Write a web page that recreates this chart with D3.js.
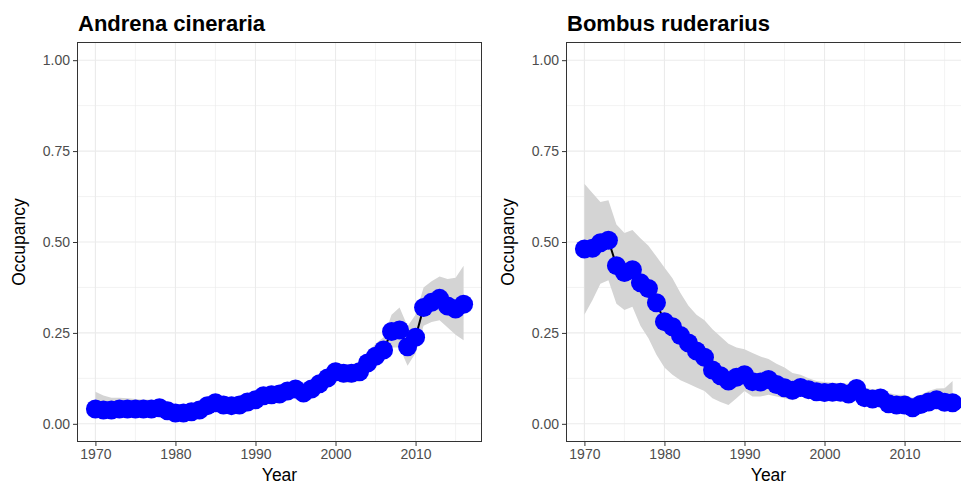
<!DOCTYPE html>
<html><head><meta charset="utf-8">
<script src="https://cdn.jsdelivr.net/npm/d3@7"></script>
<style>body{margin:0;background:#fff}svg{display:block}</style>
</head><body>
<svg id="chart" width="961" height="485"></svg>
<script>
const years = [1970,1971,1972,1973,1974,1975,1976,1977,1978,1979,1980,1981,1982,1983,1984,1985,1986,1987,1988,1989,1990,1991,1992,1993,1994,1995,1996,1997,1998,1999,2000,2001,2002,2003,2004,2005,2006,2007,2008,2009,2010,2011,2012,2013,2014,2015,2016];

const andrenaMean = [0.041,0.038,0.038,0.041,0.041,0.041,0.041,0.041,0.044,0.036,0.030,0.030,0.033,0.038,0.050,0.058,0.052,0.050,0.052,0.060,0.066,0.077,0.080,0.082,0.090,0.096,0.085,0.096,0.110,0.126,0.143,0.139,0.139,0.143,0.167,0.186,0.203,0.254,0.258,0.212,0.238,0.320,0.334,0.345,0.324,0.316,0.329];
const andrenaLower = [0.020,0.022,0.022,0.025,0.025,0.025,0.025,0.025,0.025,0.020,0.018,0.018,0.020,0.022,0.033,0.040,0.035,0.035,0.036,0.043,0.048,0.058,0.060,0.063,0.070,0.075,0.065,0.075,0.088,0.103,0.120,0.113,0.113,0.118,0.138,0.158,0.172,0.210,0.210,0.160,0.195,0.270,0.280,0.285,0.265,0.245,0.230];
const andrenaUpper = [0.088,0.078,0.072,0.072,0.070,0.068,0.067,0.066,0.066,0.057,0.052,0.052,0.054,0.060,0.072,0.078,0.072,0.070,0.072,0.079,0.087,0.098,0.102,0.104,0.112,0.120,0.109,0.120,0.135,0.152,0.170,0.164,0.164,0.170,0.195,0.220,0.238,0.300,0.320,0.268,0.300,0.375,0.392,0.405,0.398,0.402,0.435];

const bombusMean = [0.481,0.483,0.498,0.505,0.435,0.416,0.424,0.388,0.372,0.333,0.281,0.267,0.243,0.222,0.200,0.183,0.148,0.132,0.118,0.128,0.135,0.116,0.115,0.122,0.108,0.099,0.092,0.100,0.094,0.088,0.086,0.087,0.087,0.082,0.097,0.072,0.068,0.071,0.055,0.052,0.052,0.044,0.053,0.060,0.066,0.059,0.058];
const bombusLower = [0.300,0.340,0.385,0.395,0.330,0.313,0.322,0.270,0.235,0.190,0.155,0.135,0.120,0.110,0.100,0.090,0.070,0.060,0.052,0.070,0.090,0.075,0.075,0.080,0.075,0.070,0.065,0.075,0.070,0.065,0.065,0.065,0.065,0.063,0.075,0.055,0.050,0.050,0.040,0.035,0.035,0.028,0.035,0.040,0.045,0.040,0.035];
const bombusUpper = [0.660,0.635,0.610,0.615,0.548,0.525,0.533,0.510,0.490,0.460,0.430,0.400,0.360,0.325,0.300,0.285,0.260,0.240,0.220,0.210,0.205,0.195,0.185,0.178,0.165,0.155,0.140,0.135,0.125,0.118,0.115,0.113,0.112,0.110,0.122,0.100,0.095,0.097,0.085,0.080,0.080,0.072,0.080,0.090,0.097,0.098,0.118];

const xTicks = [1970,1980,1990,2000,2010];
const xMinor = [1975,1985,1995,2005,2015];
const yTicks = [0,0.25,0.5,0.75,1];
const yMinor = [0.125,0.375,0.625,0.875];

const panels = [
  {title:"Andrena cineraria", mean:andrenaMean, lower:andrenaLower, upper:andrenaUpper, left:77},
  {title:"Bombus ruderarius", mean:bombusMean, lower:bombusLower, upper:bombusUpper, left:566}
];

const svg = d3.select("#chart");
const pTop = 42, pBottom = 442, pw = 405;
const font = "Liberation Sans, Arial, Helvetica, sans-serif";

panels.forEach((p,i) => {
  const x = d3.scaleLinear().domain([1967.7, 2018.3]).range([p.left, p.left+pw]);
  const y = d3.scaleLinear().domain([-0.05, 1.05]).range([pBottom, pTop]);
  const g = svg.append("g");
  const cid = "clip"+i;
  svg.append("defs").append("clipPath").attr("id",cid).append("rect")
    .attr("x",p.left).attr("y",pTop).attr("width",pw).attr("height",pBottom-pTop);

  const grid = g.append("g");
  grid.selectAll(".vmin").data(xMinor).join("line")
    .attr("x1",d=>x(d)).attr("x2",d=>x(d)).attr("y1",pTop).attr("y2",pBottom)
    .attr("stroke","#ebebeb").attr("stroke-width",0.6);
  grid.selectAll(".hmin").data(yMinor).join("line")
    .attr("y1",d=>y(d)).attr("y2",d=>y(d)).attr("x1",p.left).attr("x2",p.left+pw)
    .attr("stroke","#ebebeb").attr("stroke-width",0.6);
  grid.selectAll(".vmaj").data(xTicks).join("line")
    .attr("x1",d=>x(d)).attr("x2",d=>x(d)).attr("y1",pTop).attr("y2",pBottom)
    .attr("stroke","#ebebeb").attr("stroke-width",1.1);
  grid.selectAll(".hmaj").data(yTicks).join("line")
    .attr("y1",d=>y(d)).attr("y2",d=>y(d)).attr("x1",p.left).attr("x2",p.left+pw)
    .attr("stroke","#ebebeb").attr("stroke-width",1.1);

  const data = years.map((yr,k)=>({yr, m:p.mean[k], lo:p.lower[k], hi:p.upper[k]}));
  const plot = g.append("g").attr("clip-path",`url(#${cid})`);
  plot.append("path").datum(data)
    .attr("d", d3.area().x(d=>x(d.yr)).y0(d=>y(d.lo)).y1(d=>y(d.hi)))
    .attr("fill","#d4d4d4");
  plot.append("path").datum(data)
    .attr("d", d3.line().x(d=>x(d.yr)).y(d=>y(d.m)))
    .attr("fill","none").attr("stroke","#000").attr("stroke-width",2);
  plot.selectAll("circle").data(data).join("circle")
    .attr("cx",d=>x(d.yr)).attr("cy",d=>y(d.m)).attr("r",9.5).attr("fill","#0000ff");

  g.append("rect").attr("x",p.left+0.5).attr("y",pTop+0.5).attr("width",pw-1).attr("height",pBottom-pTop-1)
    .attr("fill","none").attr("stroke","#333").attr("stroke-width",1);

  const xa = g.append("g").attr("transform",`translate(0,${pBottom})`)
    .call(d3.axisBottom(x).tickValues(xTicks).tickFormat(d3.format("d")).tickSize(4).tickSizeOuter(0));
  const ya = g.append("g").attr("transform",`translate(${p.left},0)`)
    .call(d3.axisLeft(y).tickValues(yTicks).tickFormat(d3.format(".2f")).tickSize(4).tickSizeOuter(0));
  [xa,ya].forEach(a=>{
    a.select(".domain").remove();
    a.selectAll(".tick line").attr("stroke","#333");
    a.selectAll(".tick text").attr("fill","#4d4d4d").style("font-family",font).style("font-size","14px");
  });
  xa.selectAll(".tick text").attr("dy","0.71em").attr("y",7);
  ya.selectAll(".tick text").attr("x",-7);

  svg.append("text").attr("x",p.left+1).attr("y",31).text(p.title)
    .style("font-family",font).style("font-weight","bold").style("font-size","22px").attr("fill","#000");
  svg.append("text").attr("x",p.left+pw/2).attr("y",481).attr("text-anchor","middle")
    .text("Year").style("font-family",font).style("font-size","17.5px").attr("fill","#000");
  svg.append("text").attr("transform",`translate(${p.left-52},242) rotate(-90)`).attr("text-anchor","middle")
    .text("Occupancy").style("font-family",font).style("font-size","17.5px").attr("fill","#000");
});
</script>
</body></html>
